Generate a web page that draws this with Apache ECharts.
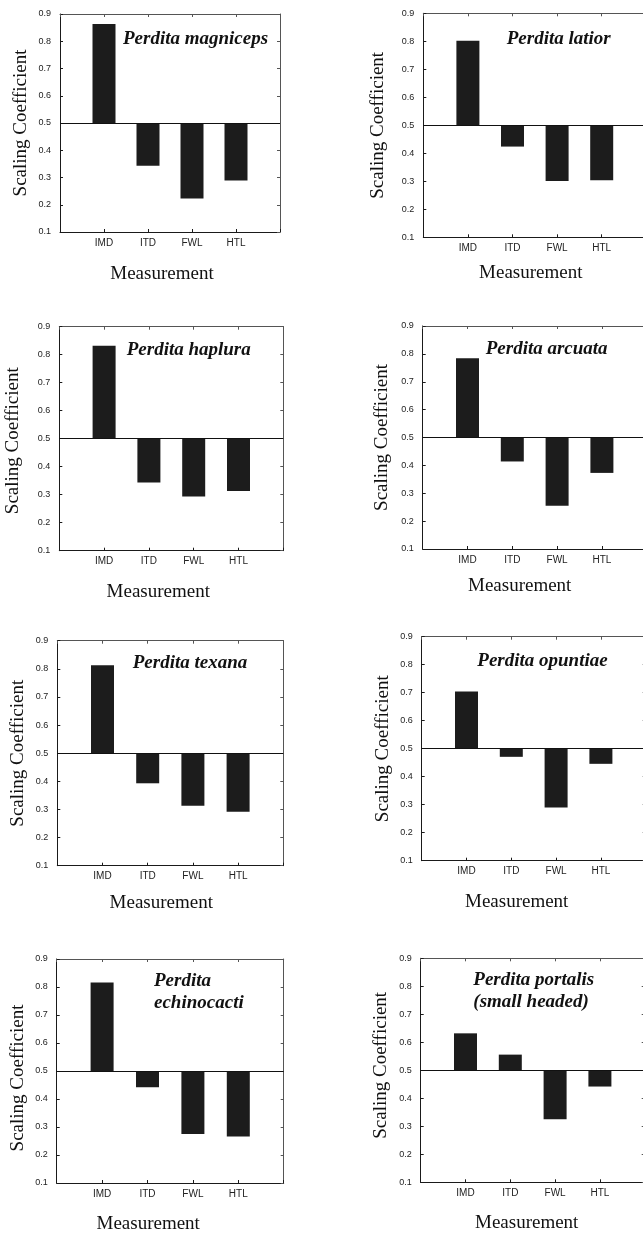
<!DOCTYPE html>
<html>
<head>
<meta charset="utf-8">
<script src="https://cdn.jsdelivr.net/npm/echarts@6/dist/echarts.min.js"></script>
<style>html,body{margin:0;padding:0;background:#fff}#c{width:643px;height:1235px}</style>
</head>
<body>
<div id="c"></div>
<script>
// ---- data ----
const categories = ['IMD', 'ITD', 'FWL', 'HTL'];
const yTickLabels = ['0.1', '0.2', '0.3', '0.4', '0.5', '0.6', '0.7', '0.8', '0.9'];
const baseline = 0.5;
const speciesNames = [
  'Perdita magniceps', 'Perdita latior',
  'Perdita haplura', 'Perdita arcuata',
  'Perdita texana', 'Perdita opuntiae',
  'Perdita\nechinocacti', 'Perdita portalis\n(small headed)'
];
const magniceps   = [0.863, 0.343, 0.223, 0.289];
const latior      = [0.802, 0.424, 0.301, 0.304];
const haplura     = [0.832, 0.344, 0.294, 0.313];
const arcuata     = [0.784, 0.414, 0.255, 0.373];
const texana      = [0.813, 0.393, 0.313, 0.292];
const opuntiae    = [0.704, 0.471, 0.290, 0.446];
const echinocacti = [0.816, 0.442, 0.275, 0.266];
const portalis    = [0.632, 0.556, 0.325, 0.442];
const panelValues = [magniceps, latior, haplura, arcuata, texana, opuntiae, echinocacti, portalis];

// ---- layout (positions only) ----
const layout = [
  {l: 60,    t: 14,    w: 220, h: 218, tl: 123,   tt: 28.5,  yg: 29.5, xg: 33,   xs: -8,  ys: 0},
  {l: 423.3, t: 13.3,  w: 223, h: 224, tl: 506.7, tt: 28,    yg: 35.5, xg: 26,   xs: -4,  ys: 0},
  {l: 59.3,  t: 326.7, w: 224, h: 224, tl: 126.7, tt: 339.5, yg: 36.5, xg: 31.5, xs: -13, ys: 2},
  {l: 422.7, t: 326,   w: 224, h: 223, tl: 485.7, tt: 338.5, yg: 31.5, xg: 28,   xs: -15, ys: 0},
  {l: 57.3,  t: 640.7, w: 226, h: 225, tl: 132.7, tt: 652,   yg: 29.5, xg: 28,   xs: -9,  ys: 0},
  {l: 421.7, t: 636.7, w: 224, h: 224, tl: 477.3, tt: 650.5, yg: 29,   xg: 31.5, xs: -17, ys: 0},
  {l: 56.7,  t: 959,   w: 227, h: 224, tl: 154,   tt: 970.5, yg: 29,   xg: 32,   xs: -22, ys: 7},
  {l: 420.7, t: 958.3, w: 224, h: 224, tl: 473.3, tt: 968.8, yg: 30.5, xg: 31.5, xs: -6,  ys: -5}
];

const serif = "'Liberation Serif','Times New Roman',serif";
const sans = "'Liberation Sans',Arial,Helvetica,sans-serif";
const axisData = [''].concat(categories, ['']);

const grid = [], xAxis = [], yAxis = [], series = [], title = [];
panelValues.forEach((vals, i) => {
  const L = layout[i];
  grid.push({left: L.l, top: L.t, width: L.w, height: L.h, containLabel: false, outerBoundsMode: 'none'});
  const pad = (s) => s < 0 ? [0, -2 * s, 0, 0] : [0, 0, 0, 2 * s];
  xAxis.push({
    gridIndex: i, type: 'category', data: axisData, boundaryGap: false, position: 'bottom',
    name: 'Measurement', nameLocation: 'middle', nameGap: L.xg,
    nameTextStyle: {fontFamily: serif, fontSize: 19, color: '#111', padding: pad(L.xs)},
    axisLine: {lineStyle: {color: '#1a1a1a', width: 1}},
    axisTick: {inside: true, length: 3, lineStyle: {color: '#1a1a1a'}},
    axisLabel: {interval: 0, margin: 6, fontFamily: sans, fontSize: 10, color: '#222'},
    splitLine: {show: false}
  });
  xAxis.push({
    gridIndex: i, type: 'category', data: axisData, boundaryGap: false, position: 'top',
    axisLine: {lineStyle: {color: '#555', width: 1}},
    axisTick: {inside: true, length: 3, lineStyle: {color: '#555'}},
    axisLabel: {show: false}, splitLine: {show: false}
  });
  const ypad = (s) => s > 0 ? [0, 2 * s, 0, 0] : [0, 0, 0, -2 * s];
  yAxis.push({
    gridIndex: i, type: 'value', min: 0.1, max: 0.9, interval: 0.1, position: 'left',
    name: 'Scaling Coefficient', nameLocation: 'middle', nameGap: L.yg, nameRotate: 90,
    nameTextStyle: {fontFamily: serif, fontSize: 19, color: '#111', padding: ypad(L.ys)},
    axisLine: {show: true, lineStyle: {color: '#1a1a1a', width: 1}},
    axisTick: {show: true, inside: true, length: 3, lineStyle: {color: '#1a1a1a'}},
    axisLabel: {margin: 9, fontFamily: sans, fontSize: 9, color: '#222',
      formatter: (v) => yTickLabels[Math.round((v - 0.1) * 10)] || ''},
    splitLine: {show: false}
  });
  yAxis.push({
    gridIndex: i, type: 'value', min: 0.1, max: 0.9, interval: 0.1, position: 'right',
    axisLine: {show: true, lineStyle: {color: '#555', width: 1}},
    axisTick: {show: true, inside: true, length: 3, lineStyle: {color: '#555'}},
    axisLabel: {show: false}, splitLine: {show: false}
  });
  const base = [null].concat(vals.map(v => Math.min(v, baseline)), [null]);
  const delta = [null].concat(vals.map(v => Math.abs(v - baseline)), [null]);
  series.push({
    type: 'bar', xAxisIndex: 2 * i, yAxisIndex: 2 * i, stack: 'p' + i, data: base,
    barWidth: 23, itemStyle: {color: 'rgba(0,0,0,0)'}, silent: true
  });
  series.push({
    type: 'bar', xAxisIndex: 2 * i, yAxisIndex: 2 * i, stack: 'p' + i, data: delta,
    barWidth: 23, itemStyle: {color: '#1c1c1c'},
    markLine: {silent: true, symbol: 'none', label: {show: false},
      lineStyle: {color: '#111', width: 1, type: 'solid'}, data: [{yAxis: baseline}]}
  });
  title.push({
    text: speciesNames[i], left: L.tl, top: L.tt, padding: 0, textAlign: 'left',
    textStyle: {fontFamily: serif, fontSize: 19, fontStyle: 'italic', fontWeight: 'bold',
      color: '#111', lineHeight: 22}
  });
});

const chart = echarts.init(document.getElementById('c'), null, {renderer: 'canvas'});
chart.setOption({animation: false, backgroundColor: '#fff', title, grid, xAxis, yAxis, series});
</script>
</body>
</html>
